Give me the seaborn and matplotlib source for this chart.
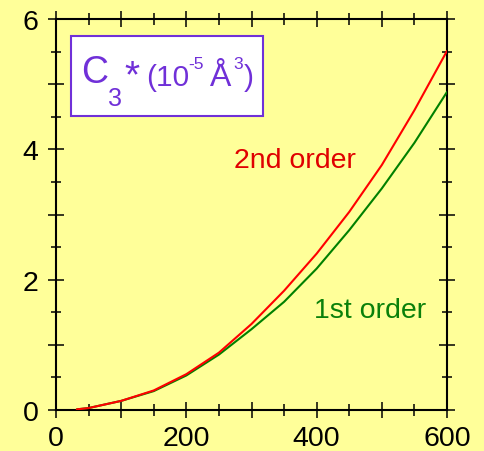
import matplotlib
matplotlib.use("Agg")
import matplotlib.pyplot as plt
from matplotlib.patches import Rectangle
from matplotlib.ticker import MultipleLocator
import numpy as np
import pandas as pd
import seaborn as sns

# Temperature grid (K) and the two approximations of C3*
temperature = [32, 50, 100, 150, 200, 250, 300, 350, 400, 450, 500, 550, 600]
c3_second_order = [0.01, 0.03, 0.14, 0.30, 0.55, 0.88, 1.32, 1.83, 2.40, 3.04, 3.76, 4.60, 5.51]
c3_first_order = [0.01, 0.03, 0.14, 0.29, 0.53, 0.85, 1.24, 1.66, 2.17, 2.76, 3.40, 4.10, 4.88]

series_names = ["2nd order", "1st order"]
x_tick_values = [0, 200, 400, 600]
y_tick_values = [0, 2, 4, 6]

BG = "#FFFF99"
RED = "#FF0000"
GREEN = "#008000"
PURPLE = "#7030D8"

sns.set_style("ticks")
plt.rcParams["font.family"] = ["Liberation Sans", "DejaVu Sans"]

df = pd.concat([
    pd.DataFrame({"T": temperature, "C3": c3_second_order, "order": series_names[0]}),
    pd.DataFrame({"T": temperature, "C3": c3_first_order, "order": series_names[1]}),
])

W, H = 484, 452
fig = plt.figure(figsize=(W / 100, H / 100), dpi=100, facecolor=BG)
ax = fig.add_axes([56 / W, 1 - 411 / H, (447 - 56) / W, (411 - 20) / H])
ax.set_facecolor(BG)

sns.lineplot(data=df, x="T", y="C3", hue="order",
             palette={series_names[0]: RED, series_names[1]: GREEN},
             hue_order=[series_names[1], series_names[0]],
             linewidth=1.5, legend=False, ax=ax, zorder=3)

ax.set_xlim(0, 600)
ax.set_ylim(0, 6)
ax.set_xlabel("")
ax.set_ylabel("")

ax.set_xticks(np.arange(0, 601, 100))
ax.set_xticklabels([str(v) if v in x_tick_values else "" for v in range(0, 601, 100)])
ax.xaxis.set_minor_locator(MultipleLocator(50))
ax.set_yticks(np.arange(0, 7, 1))
ax.set_yticklabels([str(v) if v in y_tick_values else "" for v in range(0, 7)])
ax.yaxis.set_minor_locator(MultipleLocator(0.5))

for side in ["left", "right", "top", "bottom"]:
    ax.spines[side].set_visible(True)
    ax.spines[side].set_linewidth(1.5)
    ax.spines[side].set_color("black")

ax.tick_params(axis="both", which="both", direction="inout", color="black",
               top=True, right=True, width=1.1, labelsize=20.5, labelcolor="black")
ax.tick_params(axis="x", which="major", length=12, pad=5)
ax.tick_params(axis="x", which="minor", length=9)
ax.tick_params(axis="y", which="major", length=11, pad=7)
ax.tick_params(axis="y", which="minor", length=7.5)


def fx(px):
    return px / W


def fy(py):
    return 1 - py / H


# Curve labels
fig.text(fx(294.5), fy(168), series_names[0], color="#E00000", fontsize=20.5,
         ha="center", va="baseline")
fig.text(fx(370), fy(318), series_names[1], color="#0A800A", fontsize=20.5,
         ha="center", va="baseline")

# Quantity box
fig.patches.append(Rectangle((fx(71), fy(117)), (263 - 71) / W, (117 - 37) / H,
                             transform=fig.transFigure, facecolor="white",
                             edgecolor=PURPLE, linewidth=1.5, zorder=5))
parts = [
    ("C", 81, 83, 27),
    ("3", 108, 106, 18),
    ("*", 124, 87, 28),
    ("(10", 146, 86, 21.5),
    ("-5", 188, 69, 12.5),
    ("Å", 210, 86, 23),
    ("3", 233, 69, 12.5),
    (")", 244, 86, 21.5),
]
for s, px, py, size in parts:
    fig.text(fx(px), fy(py), s, color=PURPLE, fontsize=size,
             ha="left", va="baseline", zorder=6)

fig.savefig("out.png", dpi=100, facecolor=BG)
